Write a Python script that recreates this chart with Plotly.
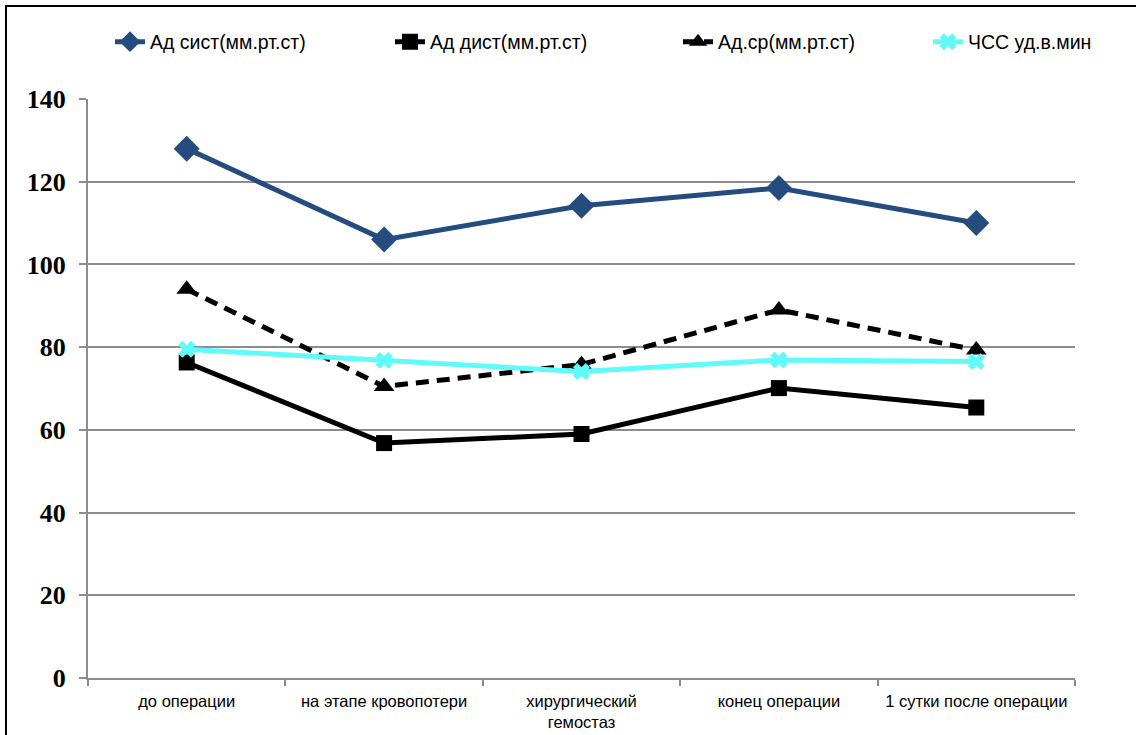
import plotly.graph_objects as go

# Stages of the observation
stages = [
    "до операции",
    "на этапе кровопотери",
    "хирургический<br>гемостаз",
    "конец операции",
    "1 сутки после операции",
]

# Haemodynamic indicators at each stage
ad_sist = [128, 106, 114.2, 118.5, 110]
ad_dist = [76.3, 56.8, 59.0, 70.1, 65.4]
ad_sr = [94, 70.5, 75.8, 89.0, 79.3]
chss = [79.5, 76.8, 74.1, 76.9, 76.5]

y_ticks = [0, 20, 40, 60, 80, 100, 120, 140]

W, H = 1136, 735
M_L, M_R, M_T, M_B = 88, 61, 99, 57

fig = go.Figure()

fig.add_trace(go.Scatter(
    x=stages, y=ad_sist, name="Ад сист(мм.рт.ст)", mode="lines+markers",
    line=dict(color="#244C7E", width=5),
    marker=dict(symbol="diamond", size=20, color="#244C7E"),
    legend="legend",
))
fig.add_trace(go.Scatter(
    x=stages, y=ad_dist, name="Ад дист(мм.рт.ст)", mode="lines+markers",
    line=dict(color="#000000", width=5),
    marker=dict(symbol="square", size=16, color="#000000"),
    legend="legend2",
))
fig.add_trace(go.Scatter(
    x=stages, y=ad_sr, name="Ад.ср(мм.рт.ст)", mode="lines+markers",
    line=dict(color="#000000", width=5, dash="13px,8px"),
    marker=dict(symbol="triangle-up", size=18, color="#000000"),
    legend="legend3",
))
fig.add_trace(go.Scatter(
    x=stages, y=chss, name="ЧСС уд.в.мин", mode="lines+markers",
    line=dict(color="#5FFBFB", width=5),
    marker=dict(symbol="x", size=15, color="#5FFBFB"),
    legend="legend4",
))

# Outer frame (left and top edges visible inside the page)
pw = W - M_L - M_R
ph = H - M_T - M_B
fig.add_shape(
    type="rect", xref="paper", yref="paper",
    x0=(6 - M_L) / pw, x1=(W + 10 - M_L) / pw,
    y0=-(M_B + 10) / ph, y1=1 + (M_T - 6) / ph,
    line=dict(color="#000000", width=2), fillcolor="rgba(0,0,0,0)",
    layer="below",
)


def legend_at(text_left):
    # one legend box per series, placed along the top row
    return dict(
        orientation="h", xref="container", yref="container",
        x=(text_left - 40) / W, y=1 - 42 / H,
        xanchor="left", yanchor="middle",
        font=dict(family="Liberation Sans, Arial", size=19.5, color="#000"),
        bgcolor="rgba(0,0,0,0)",
    )


fig.update_layout(
    width=W, height=H,
    margin=dict(l=M_L, r=M_R, t=M_T, b=M_B, autoexpand=False),
    paper_bgcolor="white", plot_bgcolor="white",
    showlegend=True,
    legend=legend_at(150),
    legend2=legend_at(430),
    legend3=legend_at(718),
    legend4=legend_at(968),
    xaxis=dict(
        type="category", range=[-0.5, 4.5], tickson="boundaries",
        showgrid=False, automargin=False,
        showline=True, linecolor="#8C8C8C", linewidth=2,
        ticks="outside", ticklen=6, tickcolor="#8C8C8C", tickwidth=2,
        tickfont=dict(family="Liberation Sans, Arial", size=16.5, color="#000"),
        ticklabelstandoff=7,
        fixedrange=True,
    ),
    yaxis=dict(
        range=[0, 140], tickvals=y_ticks, automargin=False,
        showgrid=True, gridcolor="#8C8C8C", gridwidth=2,
        showline=True, linecolor="#8C8C8C", linewidth=2,
        ticks="outside", ticklen=7, tickcolor="#8C8C8C", tickwidth=2,
        tickfont=dict(family="Liberation Serif, Times New Roman", size=26,
                      color="#000", weight="bold"),
        ticklabelstandoff=8,
        zeroline=False,
        fixedrange=True,
    ),
)

fig.write_html("out.html")
